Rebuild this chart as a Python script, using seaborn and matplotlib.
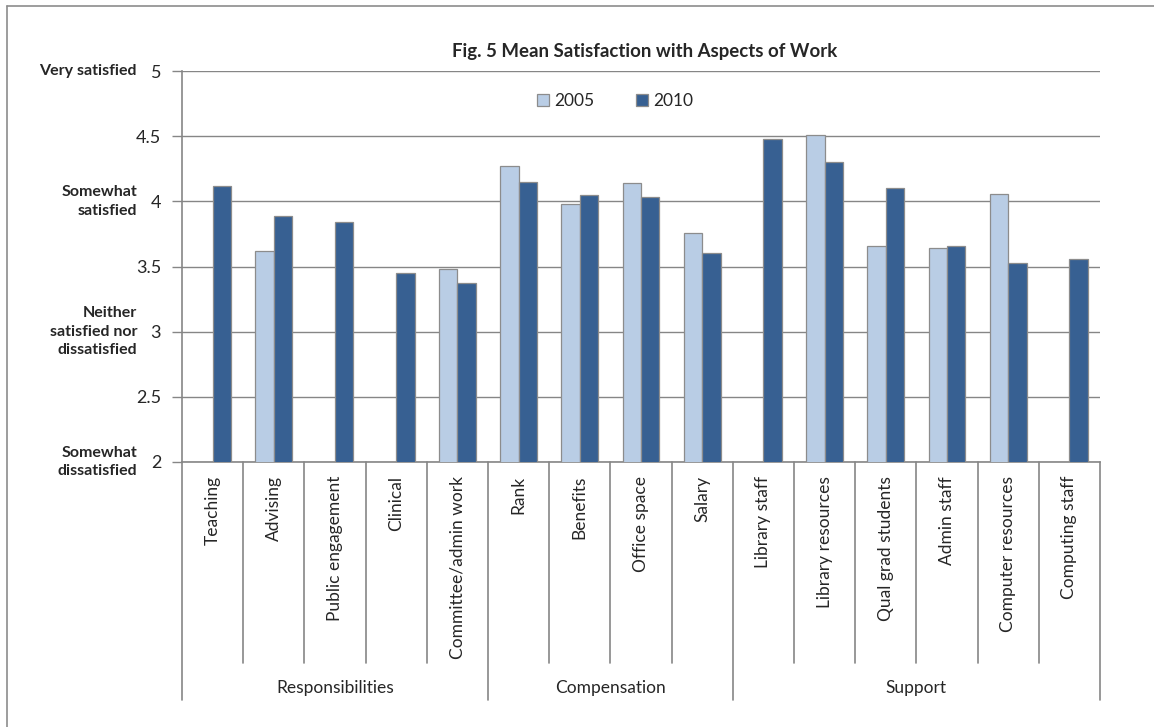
import numpy as np
import pandas as pd
import matplotlib
matplotlib.use("Agg")
import matplotlib.pyplot as plt
import matplotlib.transforms as mtransforms
from matplotlib.lines import Line2D
import seaborn as sns

# ---------------- data ----------------
aspects = ["Teaching", "Advising", "Public engagement", "Clinical", "Committee/admin work",
           "Rank", "Benefits", "Office space", "Salary",
           "Library staff", "Library resources", "Qual grad students", "Admin staff",
           "Computer resources", "Computing staff"]
groups = ["Responsibilities", "Compensation", "Support"]
group_sizes = [5, 4, 6]
years = ["2005", "2010"]
values_2005 = [np.nan, 3.62, np.nan, np.nan, 3.48,
               4.27, 3.98, 4.14, 3.76,
               np.nan, 4.51, 3.66, 3.64, 4.06, np.nan]
values_2010 = [4.12, 3.89, 3.84, 3.45, 3.37,
               4.15, 4.05, 4.03, 3.60,
               4.48, 4.30, 4.10, 3.66, 3.53, 3.56]
y_ticks = [2, 2.5, 3, 3.5, 4, 4.5, 5]
y_tick_labels = ["2", "2.5", "3", "3.5", "4", "4.5", "5"]
scale_values = [5, 4, 3, 2]
scale_labels = ["Very satisfied", "Somewhat\nsatisfied",
                "Neither\nsatisfied nor\ndissatisfied", "Somewhat\ndissatisfied"]
title = "Fig. 5 Mean Satisfaction with Aspects of Work"

df = pd.DataFrame({
    "aspect": aspects * 2,
    "year": [years[0]] * len(aspects) + [years[1]] * len(aspects),
    "value": values_2005 + values_2010,
})

# ---------------- style ----------------
sns.set_style("white")
FONT = ["Lato", "DejaVu Sans"]
plt.rcParams["font.family"] = FONT
GRID = "#868686"
palette = {"2005": "#B9CDE5", "2010": "#376092"}

W, H = 1154, 727
fig = plt.figure(figsize=(W / 100, H / 100), dpi=100)
L, R, T, B = 182, 1100, 71, 462
ax = fig.add_axes([L / W, 1 - B / H, (R - L) / W, (B - T) / H])

sns.barplot(data=df, x="aspect", y="value", hue="year", order=aspects,
            hue_order=years, palette=palette, saturation=1, width=0.6,
            edgecolor="#8C8C8C", linewidth=0.9, ax=ax, zorder=3)

ax.set_ylim(2, 5)
ax.set_xlim(-0.5, len(aspects) - 0.5)
ax.set_yticks(y_ticks)
ax.set_yticklabels(y_tick_labels, fontsize=13)
ax.yaxis.grid(True, color=GRID, linewidth=1.0, zorder=0)
ax.set_axisbelow(True)
ax.set_xlabel("")
ax.set_ylabel("")

for s in ["top", "right"]:
    ax.spines[s].set_visible(False)
for s in ["left", "bottom"]:
    ax.spines[s].set_color(GRID)
    ax.spines[s].set_linewidth(1.2)

ax.tick_params(axis="y", length=7, width=1.0, color=GRID, pad=8, left=True)
ax.set_xticks(range(len(aspects)))
ax.set_xticklabels(aspects, rotation=90, fontsize=12.5, va="top")
ax.tick_params(axis="x", length=0, pad=10)

# category / group separators
trans = mtransforms.blended_transform_factory(ax.transData, ax.transAxes)
cat_bottom = -(663 - B) / (B - T)
grp_bottom = -(700 - B) / (B - T)
grp_edges = list(np.cumsum([0] + group_sizes) - 0.5)
for i in range(len(aspects) + 1):
    xpos = i - 0.5
    yb = grp_bottom if xpos in grp_edges else cat_bottom
    ax.add_line(Line2D([xpos, xpos], [0, yb], transform=trans, color=GRID,
                       linewidth=1.2, clip_on=False))

start = 0
for g, n in zip(groups, group_sizes):
    ax.text(start + (n - 1) / 2, -(688 - B) / (B - T), g, transform=trans,
            ha="center", va="center", fontsize=12.5)
    start += n

# left descriptive scale labels
trans_y = mtransforms.blended_transform_factory(ax.transAxes, ax.transData)
for v, lab in zip(scale_values, scale_labels):
    ax.text(-(L - 137) / (R - L), v, lab, transform=trans_y, ha="right",
            va="center", multialignment="right", fontsize=11.5, fontweight="bold",
            linespacing=1.4)

# legend
handles, labels = ax.get_legend_handles_labels()
ax.legend(handles, labels, loc="center", bbox_to_anchor=((615 - L) / (R - L), 1 - (101 - T) / (B - T)),
          ncol=2, frameon=False, fontsize=12.5, handlelength=0.7, handleheight=0.7,
          handletextpad=0.3, columnspacing=2.4)

fig.text(645 / W, 1 - 52 / H, title, ha="center", va="center",
         fontsize=13.4, fontweight="bold")

# outer chart border (top and left visible)
fig.add_artist(Line2D([7 / W, 1], [1 - 6 / H, 1 - 6 / H], transform=fig.transFigure,
                      color="#8C8C8C", linewidth=1.2))
fig.add_artist(Line2D([7 / W, 7 / W], [0, 1 - 6 / H], transform=fig.transFigure,
                      color="#8C8C8C", linewidth=1.2))

fig.savefig("out.png", dpi=100, facecolor="white")
